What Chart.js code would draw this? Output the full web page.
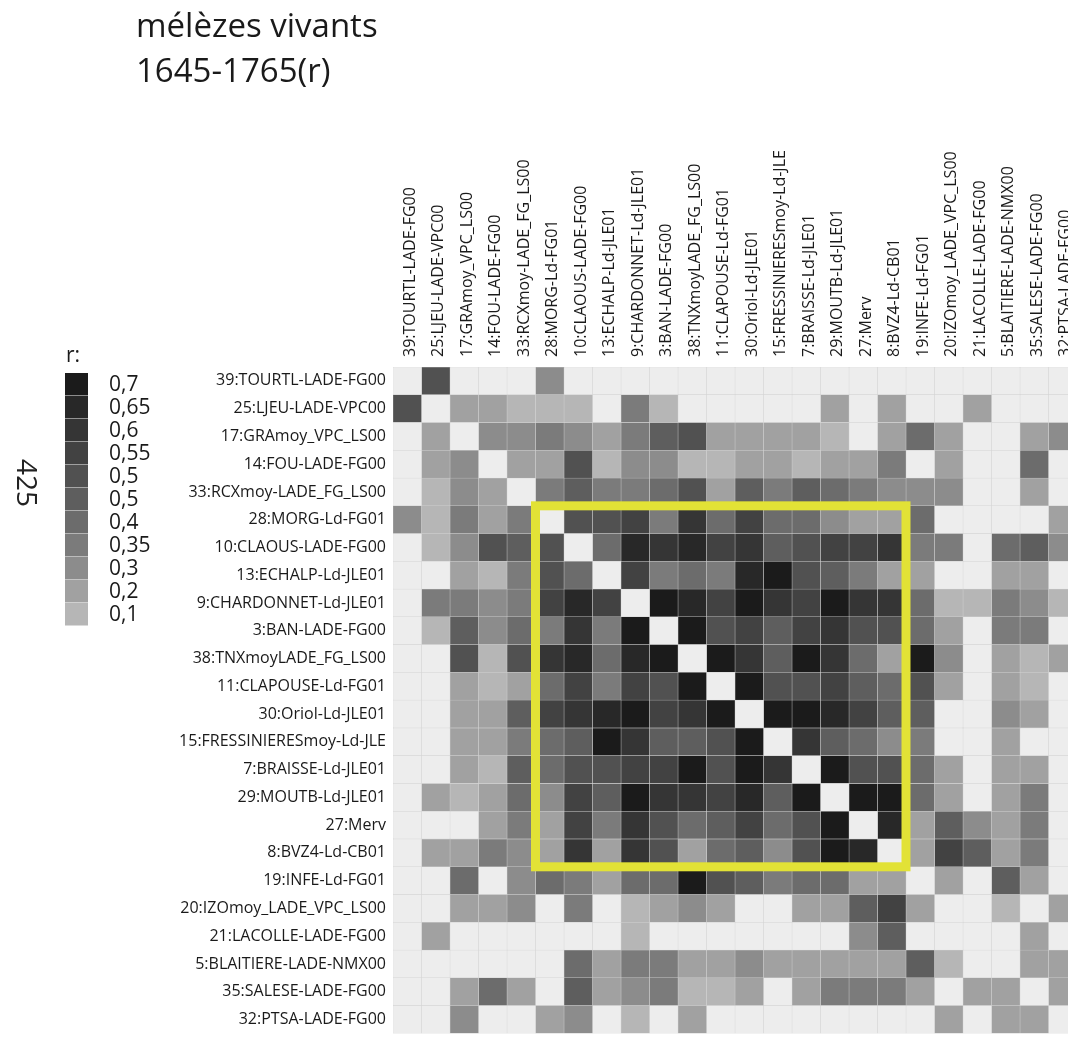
<!DOCTYPE html>
<html>
<head>
<meta charset="utf-8">
<script src="https://cdn.jsdelivr.net/npm/chart.js@4.4.1/dist/chart.umd.min.js"></script>
<style>
  html, body { margin: 0; padding: 0; background: #fff; overflow: hidden; }
  #wrap { width: 1080px; height: 1050px; }
</style>
</head>
<body>
<div id="wrap"><canvas id="graph_ID" width="1080" height="1050"></canvas></div>
<script>
    // sites, same order for rows and columns
    var stations = ['39:TOURTL-LADE-FG00', '25:LJEU-LADE-VPC00', '17:GRAmoy_VPC_LS00', '14:FOU-LADE-FG00',
      '33:RCXmoy-LADE_FG_LS00', '28:MORG-Ld-FG01', '10:CLAOUS-LADE-FG00', '13:ECHALP-Ld-JLE01',
      '9:CHARDONNET-Ld-JLE01', '3:BAN-LADE-FG00', '38:TNXmoyLADE_FG_LS00', '11:CLAPOUSE-Ld-FG01',
      '30:Oriol-Ld-JLE01', '15:FRESSINIERESmoy-Ld-JLE', '7:BRAISSE-Ld-JLE01', '29:MOUTB-Ld-JLE01',
      '27:Merv', '8:BVZ4-Ld-CB01', '19:INFE-Ld-FG01', '20:IZOmoy_LADE_VPC_LS00',
      '21:LACOLLE-LADE-FG00', '5:BLAITIERE-LADE-NMX00', '35:SALESE-LADE-FG00', '32:PTSA-LADE-FG00'];

    // r values read per row (null = diagonal, 0 = below 0,1)
    var r39 = [null, 0.5, 0, 0, 0, 0.3, 0, 0, 0, 0, 0, 0, 0, 0, 0, 0, 0, 0, 0, 0, 0, 0, 0, 0];
    var r25 = [0.5, null, 0.2, 0.2, 0.1, 0.1, 0.1, 0, 0.35, 0.1, 0, 0, 0, 0, 0, 0.2, 0, 0.2, 0, 0, 0.2, 0, 0, 0];
    var r17 = [0, 0.2, null, 0.3, 0.3, 0.35, 0.3, 0.2, 0.35, 0.45, 0.5, 0.25, 0.2, 0.2, 0.2, 0.1, 0, 0.2, 0.4, 0.2, 0, 0, 0.2, 0.3];
    var r14 = [0, 0.2, 0.3, null, 0.2, 0.2, 0.5, 0.1, 0.3, 0.3, 0.1, 0.1, 0.2, 0.2, 0.1, 0.2, 0.2, 0.35, 0, 0.2, 0, 0, 0.4, 0];
    var r33 = [0, 0.1, 0.3, 0.2, null, 0.35, 0.45, 0.35, 0.35, 0.4, 0.5, 0.2, 0.45, 0.35, 0.45, 0.4, 0.35, 0.3, 0.3, 0.3, 0, 0, 0.2, 0];
    var r28 = [0.3, 0.1, 0.35, 0.2, 0.35, null, 0.5, 0.5, 0.55, 0.35, 0.6, 0.4, 0.55, 0.4, 0.4, 0.3, 0.2, 0.2, 0.4, 0, 0, 0, 0, 0.2];
    var r10 = [0, 0.1, 0.3, 0.5, 0.45, 0.5, null, 0.4, 0.65, 0.6, 0.65, 0.55, 0.6, 0.45, 0.5, 0.55, 0.55, 0.6, 0.35, 0.35, 0, 0.4, 0.45, 0.3];
    var r13 = [0, 0, 0.2, 0.1, 0.35, 0.5, 0.4, null, 0.55, 0.35, 0.4, 0.35, 0.65, 0.7, 0.5, 0.45, 0.35, 0.25, 0.2, 0, 0, 0.2, 0.2, 0];
    var r9  = [0, 0.35, 0.35, 0.3, 0.35, 0.55, 0.65, 0.55, null, 0.7, 0.65, 0.55, 0.7, 0.6, 0.55, 0.7, 0.6, 0.6, 0.4, 0.1, 0.1, 0.35, 0.3, 0.1];
    var r3  = [0, 0.1, 0.45, 0.3, 0.4, 0.35, 0.6, 0.35, 0.7, null, 0.7, 0.5, 0.55, 0.45, 0.55, 0.6, 0.5, 0.5, 0.4, 0.2, 0, 0.35, 0.35, 0];
    var r38 = [0, 0, 0.5, 0.1, 0.5, 0.6, 0.65, 0.4, 0.65, 0.7, null, 0.7, 0.6, 0.45, 0.7, 0.6, 0.4, 0.25, 0.7, 0.3, 0, 0.2, 0.1, 0.2];
    var r11 = [0, 0, 0.25, 0.1, 0.2, 0.4, 0.55, 0.35, 0.55, 0.5, 0.7, null, 0.7, 0.5, 0.5, 0.55, 0.45, 0.4, 0.5, 0.2, 0, 0.2, 0.1, 0];
    var r30 = [0, 0, 0.2, 0.2, 0.45, 0.55, 0.6, 0.65, 0.7, 0.55, 0.6, 0.7, null, 0.7, 0.7, 0.65, 0.55, 0.45, 0.45, 0, 0, 0.3, 0.2, 0];
    var r15 = [0, 0, 0.2, 0.2, 0.35, 0.4, 0.45, 0.7, 0.6, 0.45, 0.45, 0.5, 0.7, null, 0.6, 0.45, 0.4, 0.3, 0.35, 0, 0, 0.2, 0, 0];
    var r7  = [0, 0, 0.2, 0.1, 0.45, 0.4, 0.5, 0.5, 0.55, 0.55, 0.7, 0.5, 0.7, 0.6, null, 0.7, 0.5, 0.5, 0.4, 0.2, 0, 0.2, 0.2, 0];
    var r29 = [0, 0.2, 0.1, 0.2, 0.4, 0.3, 0.55, 0.45, 0.7, 0.6, 0.6, 0.55, 0.65, 0.45, 0.7, null, 0.7, 0.7, 0.4, 0.25, 0, 0.2, 0.35, 0];
    var r27 = [0, 0, 0, 0.2, 0.35, 0.2, 0.55, 0.35, 0.6, 0.5, 0.4, 0.45, 0.55, 0.4, 0.5, 0.7, null, 0.65, 0.2, 0.45, 0.3, 0.2, 0.35, 0];
    var r8  = [0, 0.2, 0.2, 0.35, 0.3, 0.2, 0.6, 0.25, 0.6, 0.5, 0.25, 0.4, 0.45, 0.3, 0.5, 0.7, 0.65, null, 0.2, 0.55, 0.45, 0.2, 0.35, 0];
    var r19 = [0, 0, 0.4, 0, 0.3, 0.4, 0.35, 0.2, 0.4, 0.4, 0.7, 0.5, 0.45, 0.35, 0.4, 0.4, 0.2, 0.2, null, 0.2, 0, 0.45, 0.2, 0];
    var r20 = [0, 0, 0.2, 0.2, 0.3, 0, 0.35, 0, 0.1, 0.2, 0.3, 0.2, 0, 0, 0.2, 0.25, 0.45, 0.55, 0.2, null, 0, 0.1, 0, 0.2];
    var r21 = [0, 0.2, 0, 0, 0, 0, 0, 0, 0.1, 0, 0, 0, 0, 0, 0, 0, 0.3, 0.45, 0, 0, null, 0, 0.2, 0];
    var r5  = [0, 0, 0, 0, 0, 0, 0.4, 0.2, 0.35, 0.35, 0.2, 0.2, 0.3, 0.2, 0.2, 0.2, 0.2, 0.2, 0.45, 0.1, 0, null, 0.2, 0.2];
    var r35 = [0, 0, 0.2, 0.4, 0.2, 0, 0.45, 0.2, 0.3, 0.35, 0.1, 0.1, 0.2, 0, 0.2, 0.35, 0.35, 0.35, 0.2, 0, 0.2, 0.2, null, 0.2];
    var r32 = [0, 0, 0.3, 0, 0, 0.2, 0.3, 0, 0.1, 0, 0.2, 0, 0, 0, 0, 0, 0, 0, 0, 0.2, 0, 0.2, 0.2, null];

    var matrix = [r39, r25, r17, r14, r33, r28, r10, r13, r9, r3, r38, r11,
                  r30, r15, r7, r29, r27, r8, r19, r20, r21, r5, r35, r32];

    // colour scale, top to bottom as in the key
    var legendLabels = ['0,7', '0,65', '0,6', '0,55', '0,5', '0,5', '0,4', '0,35', '0,3', '0,2', '0,1'];
    var legendSteps  = [0.7, 0.65, 0.6, 0.55, 0.5, 0.45, 0.4, 0.35, 0.3, 0.2, 0.1];
    var greys = ['#1b1b1b', '#282828', '#353535', '#424242', '#515151', '#5e5e5e',
                 '#6c6c6c', '#7b7b7b', '#8c8c8c', '#a1a1a1', '#b6b6b6'];
    var emptyGrey = '#ededed';

    var titleLines = ['mélèzes vivants', '1645-1765(r)'];
    var keyTitle = 'r:';
    var sideText = '425';
    var boxFirst = '28:MORG-Ld-FG01';
    var boxLast = '8:BVZ4-Ld-CB01';

    var labelFont = { family: '"Open Sans", sans-serif', size: 16 };
    var ink = '#1a1a1a';


    function colorFor(v)
    {
      if (v === null || v < 0.1) return emptyGrey;
      for (var k = 0; k < legendSteps.length; k++) {
        if (v >= legendSteps[k] - 1e-9) return greys[k];
      }
      return emptyGrey;
    }

    // one dataset per column, each row is a stacked horizontal bar of unit cells
    function getColumn(j)
    {
      return {
        label: stations[j],
        data: matrix.map(function () { return 1; }),
        backgroundColor: matrix.map(function (row) { return colorFor(row[j]); }),
        borderColor: '#d2d2d2',
        borderWidth: 0.5,
        borderSkipped: false,
        barPercentage: 1,
        categoryPercentage: 1
      };
    }


    var decor = {
      id: 'decor',
      beforeDraw: function (chart) {
        var ctx = chart.ctx;
        ctx.save();
        ctx.fillStyle = '#ffffff';
        ctx.fillRect(0, 0, chart.width, chart.height);
        ctx.restore();
      },
      afterDatasetsDraw: function (chart) {
        var ctx = chart.ctx;
        var xs = chart.scales.x, ys = chart.scales.y;
        var a = stations.indexOf(boxFirst), b = stations.indexOf(boxLast);
        var half = (ys.getPixelForValue(1) - ys.getPixelForValue(0)) / 2;
        var left = xs.getPixelForValue(a), right = xs.getPixelForValue(b + 1);
        var top = ys.getPixelForValue(a) - half, bottom = ys.getPixelForValue(b) + half;
        ctx.save();
        ctx.strokeStyle = '#e2e236';
        ctx.lineWidth = 9;
        ctx.lineJoin = 'miter';
        ctx.strokeRect(left, top, right - left, bottom - top);
        ctx.restore();
      },
      afterDraw: function (chart) {
        var ctx = chart.ctx;
        ctx.save();
        ctx.fillStyle = ink;
        ctx.textBaseline = 'alphabetic';
        ctx.textAlign = 'left';
        ctx.font = '33px "Open Sans", sans-serif';
        ctx.fillText(titleLines[0], 136, 37);
        ctx.fillText(titleLines[1], 136, 82);

        // colour key
        ctx.font = '21px "Open Sans", sans-serif';
        ctx.fillText(keyTitle, 66, 362);
        ctx.textBaseline = 'middle';
        for (var k = 0; k < greys.length; k++) {
          var y = 373 + k * 23;
          ctx.fillStyle = greys[k];
          ctx.fillRect(65, y, 23, 22.5);
          ctx.fillStyle = ink;
          ctx.fillText(legendLabels[k], 109, y + 12);
        }

        // vertical number on the far left
        ctx.translate(25, 483);
        ctx.rotate(Math.PI / 2);
        ctx.textAlign = 'center';
        ctx.font = '28px "Open Sans", sans-serif';
        ctx.fillStyle = '#222';
        ctx.fillText(sideText, 0, 0);
        ctx.restore();
      }
    };


    var cells = [];
    for (var j = 0; j < stations.length; j++) cells.push(getColumn(j));

    var mychart = document.getElementById('graph_ID').getContext('2d');
    var graphique = new Chart(mychart, {
      type: 'bar',
      data: {
        labels: stations,
        datasets: cells
      },
      options: {
        responsive: false,
        animation: false,
        indexAxis: 'y',
        layout: { padding: { left: 0, right: 3, top: 0, bottom: 1 } },
        scales: {
          x: { type: 'linear', stacked: true, min: 0, max: stations.length, display: false },
          y: {
            type: 'category', stacked: true,
            grid: { display: false, drawTicks: false },
            border: { display: false },
            ticks: { font: labelFont, color: ink, padding: 7, autoSkip: false },
            afterFit: function (s) { s.width = 393; }
          },
          xTop: {
            type: 'category', axis: 'x', position: 'top', labels: stations, offset: true,
            grid: { display: false, drawTicks: false },
            border: { display: false },
            // rotated top labels sit left of the tick, push them back over their column
            ticks: { font: labelFont, color: ink, padding: 10, autoSkip: false,
                     minRotation: 90, maxRotation: 90, labelOffset: 22 },
            afterFit: function (s) { s.height = 367; }
          }
        },
        plugins: {
          legend: { display: false },
          tooltip: { enabled: false }
        }
      },
      plugins: [decor]
    });
</script>
</body>
</html>
